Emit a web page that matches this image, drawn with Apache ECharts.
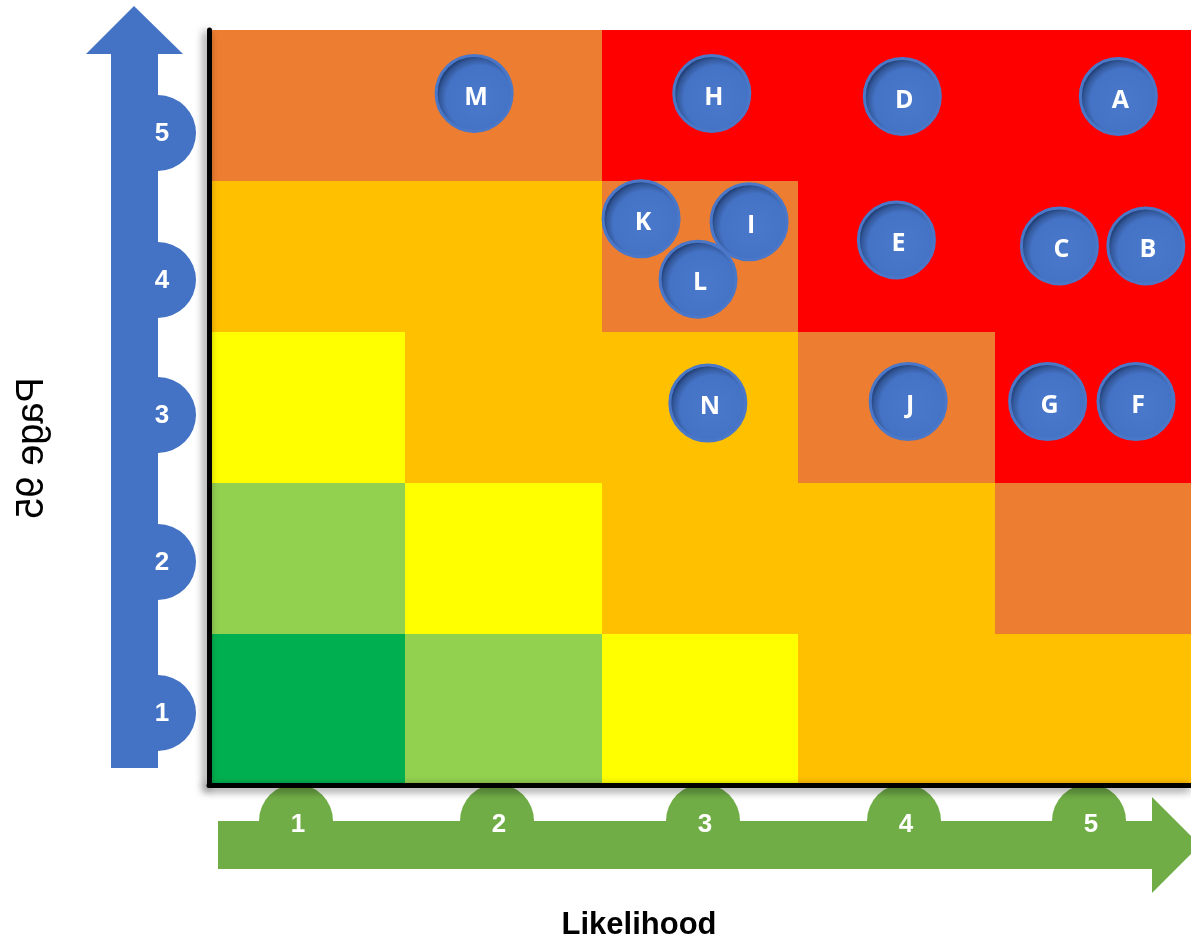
<!DOCTYPE html>
<html>
<head>
<meta charset="utf-8">
<script src="https://cdn.jsdelivr.net/npm/echarts@6/dist/echarts.min.js"></script>
<style>
  html, body { margin: 0; padding: 0; background: #fff; }
  #chart { width: 1191px; height: 941px; }
</style>
</head>
<body>
<div id="chart"></div>
<script>
// Axis tick labels
const likelihoodTicks = ['1', '2', '3', '4', '5'];
const impactTicks = ['1', '2', '3', '4', '5'];

// Risk level of each cell, rows from impact 1 (bottom) to impact 5 (top),
// columns from likelihood 1 to 5
const riskMatrix = [
  [1, 2, 3, 4, 4],
  [2, 3, 4, 4, 5],
  [3, 4, 4, 5, 6],
  [4, 4, 5, 6, 6],
  [5, 5, 6, 6, 6]
];
const levelColors = ['#00B050', '#92D050', '#FFFF00', '#FFC000', '#ED7D31', '#FF0000'];

// Individual risks
const riskIds        = ['A', 'B', 'C', 'D', 'E', 'F', 'G', 'H', 'I', 'J', 'K', 'L', 'M', 'N'];
const riskLikelihood = [5.13, 5.27, 4.83, 4.03, 4.00, 5.22, 4.77, 3.06, 3.25, 4.06, 2.70, 2.99, 1.85, 3.04];
const riskImpact     = [5.06, 4.07, 4.07, 5.06, 4.11, 3.04, 3.04, 5.08, 4.23, 3.04, 4.25, 3.85, 5.08, 3.03];

const xTitle = 'Likelihood';
const yTitle = 'Page 95';

// Cell data for the custom series
const cellData = [];
riskMatrix.forEach((row, r) => {
  row.forEach((level, c) => {
    cellData.push([c + 1, r + 1, level]);
  });
});

const riskData = riskIds.map((id, i) => ({ name: id, value: [riskLikelihood[i], riskImpact[i]] }));

// Arrow decoration layout
const BLUE = '#4472C4';
const GREEN = '#70AD47';
const yBumpCenters = [713, 562, 415, 280, 133];
const xBumpCenters = [296, 497, 703, 904, 1089];
const numFont = 'bold 26px "Liberation Sans", Arial, sans-serif';

const graphics = [];
// vertical (impact) arrow
graphics.push({ type: 'rect', shape: { x: 111, y: 52, width: 47, height: 716 }, style: { fill: BLUE }, z: 1 });
graphics.push({ type: 'polygon', shape: { points: [[86, 54], [134, 6], [183, 54]] }, style: { fill: BLUE }, z: 1 });
yBumpCenters.forEach((cy, i) => {
  graphics.push({ type: 'circle', shape: { cx: 158, cy: cy, r: 38 }, style: { fill: BLUE }, z: 1 });
  graphics.push({ type: 'text', x: 162, y: cy + 1, style: { text: impactTicks[i], fill: '#fff', font: numFont, align: 'center', verticalAlign: 'middle' }, z: 2 });
});
// horizontal (likelihood) arrow
graphics.push({ type: 'rect', shape: { x: 218, y: 821, width: 936, height: 48 }, style: { fill: GREEN }, z: 1 });
graphics.push({ type: 'polygon', shape: { points: [[1152, 797], [1200, 845], [1152, 893]] }, style: { fill: GREEN }, z: 1 });
xBumpCenters.forEach((cx, i) => {
  graphics.push({ type: 'circle', shape: { cx: cx, cy: 821, r: 37 }, style: { fill: GREEN }, z: 1 });
  graphics.push({ type: 'text', x: cx + 2, y: 825, style: { text: likelihoodTicks[i], fill: '#fff', font: numFont, align: 'center', verticalAlign: 'middle' }, z: 2 });
});
// axis titles (the vertical one is drawn mirrored, reading downwards)
graphics.push({ type: 'text', x: 639, y: 925, style: { text: xTitle, fill: '#000', font: 'bold 31px "Liberation Sans", Arial, sans-serif', align: 'center', verticalAlign: 'middle' }, z: 2 });
graphics.push({ type: 'text', x: 33, y: 448, rotation: Math.PI / 2, scaleX: -1, style: { text: yTitle, fill: '#000', font: '38px "Liberation Sans", Arial, sans-serif', align: 'center', verticalAlign: 'middle' }, z: 2 });

const chart = echarts.init(document.getElementById('chart'), null, { renderer: 'canvas' });

const axisLineStyle = {
  color: '#000',
  width: 5,
  shadowColor: 'rgba(0,0,0,0.55)',
  shadowBlur: 8,
  shadowOffsetX: -3,
  shadowOffsetY: 3
};

chart.setOption({
  animation: false,
  backgroundColor: '#fff',
  grid: { left: 209, right: 0, top: 30, bottom: 156, containLabel: false },
  xAxis: {
    type: 'value', min: 0.5, max: 5.5, interval: 0.5,
    axisLine: { show: true, onZero: false, lineStyle: axisLineStyle },
    axisTick: { show: false }, axisLabel: { show: false }, splitLine: { show: false },
    z: 10
  },
  yAxis: {
    type: 'value', min: 0.5, max: 5.5, interval: 0.5,
    axisLine: { show: true, onZero: false, lineStyle: axisLineStyle },
    axisTick: { show: false }, axisLabel: { show: false }, splitLine: { show: false },
    z: 10
  },
  graphic: graphics,
  series: [
    {
      type: 'custom',
      data: cellData,
      z: 1,
      renderItem: function (params, api) {
        const x = api.value(0), y = api.value(1), level = api.value(2);
        const p0 = api.coord([x - 0.5, y + 0.5]);
        const p1 = api.coord([x + 0.5, y - 0.5]);
        // snap to whole pixels so neighbouring cells meet without seams
        const x0 = Math.round(p0[0]), y0 = Math.round(p0[1]);
        const x1 = Math.round(p1[0]), y1 = Math.round(p1[1]);
        return {
          type: 'rect',
          shape: { x: x0, y: y0, width: x1 - x0, height: y1 - y0 },
          style: { fill: levelColors[level - 1] }
        };
      }
    },
    {
      type: 'scatter',
      data: riskData,
      z: 5,
      symbol: 'circle',
      symbolSize: 76,
      itemStyle: {
        color: {
          type: 'radial', x: 0.57, y: 0.57, r: 0.56,
          colorStops: [
            { offset: 0, color: '#4a79cc' },
            { offset: 0.76, color: '#4472C4' },
            { offset: 0.9, color: '#34599c' },
            { offset: 1, color: '#1f3c70' }
          ]
        },
        borderColor: '#4a77c8',
        borderWidth: 3,
        opacity: 1
      },
      label: {
        show: true,
        formatter: '{b}',
        color: '#fff',
        fontWeight: 'bold',
        fontSize: 25,
        fontFamily: '"Open Sans", sans-serif',
        offset: [2, 4]
      },
      emphasis: { disabled: true }
    }
  ]
});
</script>
</body>
</html>
